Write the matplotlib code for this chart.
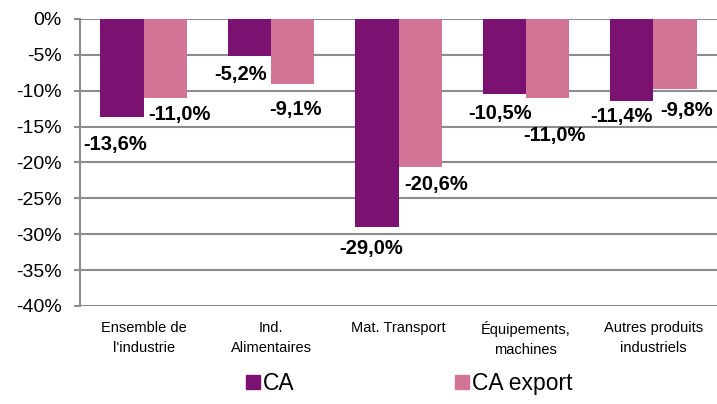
import numpy as np
import matplotlib
matplotlib.use("Agg")
import matplotlib.pyplot as plt
from matplotlib.lines import Line2D

categories = ["Ensemble de\nl'industrie", "Ind.\nAlimentaires", "Mat. Transport",
              "Équipements,\nmachines", "Autres produits\nindustriels"]
ca = [-13.6, -5.2, -29.0, -10.5, -11.4]
ca_export = [-11.0, -9.1, -20.6, -11.0, -9.8]

# label offsets in pixels from the end of each bar (Excel placed them a bit irregularly)
ca_offsets = [(-7, -28), (-9, -18), (-6, -21), (-4, -19), (-10, -16)]
export_offsets = [(14, -17), (3, -25), (16, -18), (7, -38), (12, -21)]

col_ca = "#7B1170"
col_export = "#D17495"
grid_col = "#8C8C8C"

plt.rcParams["font.family"] = ["Liberation Sans", "DejaVu Sans"]

fig = plt.figure(figsize=(7.17, 4.04), dpi=100)
ax = fig.add_axes([0.1116, 0.2426, 0.8884, 0.7104])

x = np.arange(len(categories))
w = 0.34
b1 = ax.bar(x - w / 2, ca, w, color=col_ca, zorder=3)
b2 = ax.bar(x + w / 2, ca_export, w, color=col_export, zorder=3)

for bars, vals, offs in [(b1, ca, ca_offsets), (b2, ca_export, export_offsets)]:
    for rect, v, off in zip(bars, vals, offs):
        cx = rect.get_x() + rect.get_width() / 2
        ax.annotate(f"{v:.1f}%".replace(".", ","), (cx, v), xytext=off,
                    textcoords="offset pixels", ha="center", va="center",
                    fontsize=14.5, fontweight="bold", color="black", zorder=4)

ax.set_xlim(-0.5, len(categories) - 0.5)
ax.set_ylim(-40, 0)
ax.set_yticks(np.arange(-40, 1, 5))
ax.set_yticklabels([f"{t}%" for t in range(-40, 1, 5)], fontsize=14)
ax.yaxis.grid(True, color=grid_col, linewidth=1.5, zorder=0)
ax.tick_params(axis="y", length=4, width=1.5, color=grid_col, pad=9)
ax.tick_params(axis="x", length=0, pad=11)
ax.set_xticks(x)
ax.set_xticklabels(categories, fontsize=10.5, linespacing=1.55)

for s in ["top", "right", "bottom"]:
    ax.spines[s].set_visible(False)
ax.spines["left"].set_color(grid_col)
ax.spines["left"].set_linewidth(1.5)

handles = [Line2D([], [], marker="s", linestyle="none", markersize=10.5, color=col_ca),
           Line2D([], [], marker="s", linestyle="none", markersize=10.5, color=col_export)]
fig.legend(handles, ["CA", "CA export"], loc="center", bbox_to_anchor=(0.571, 0.05),
           ncol=2, frameon=False, fontsize=16.5, handlelength=0.6, handletextpad=0.15,
           columnspacing=7.0)

fig.savefig("out.png", dpi=100)
